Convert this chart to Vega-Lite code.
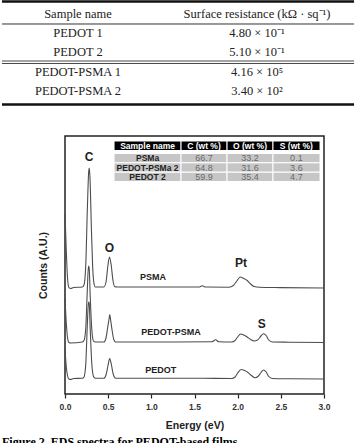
{
  "$schema": "https://vega.github.io/schema/vega-lite/v6.json",
  "padding": 0,
  "spacing": 0,
  "config": {
    "view": {"stroke": "#222", "strokeWidth": 1.5},
    "font": "Liberation Sans"
  },
  "datasets": {
    "resistance": [
      {"row": 0, "col": 0, "text": "Sample name"},
      {"row": 0, "col": 1, "text": "Surface resistance (kΩ · sq⁻¹)"},
      {"row": 1, "col": 0, "text": "PEDOT 1"},
      {"row": 1, "col": 1, "text": "4.80 × 10⁻¹"},
      {"row": 2, "col": 0, "text": "PEDOT 2"},
      {"row": 2, "col": 1, "text": "5.10 × 10⁻¹"},
      {"row": 3, "col": 0, "text": "PEDOT-PSMA 1"},
      {"row": 3, "col": 1, "text": "4.16 × 10⁵"},
      {"row": 4, "col": 0, "text": "PEDOT-PSMA 2"},
      {"row": 4, "col": 1, "text": "3.40 × 10²"}
    ],
    "spectra": [
      {"sample": "PSMA", "energy": 0, "counts": 180},
      {"sample": "PSMA", "energy": 0.015, "counts": 143},
      {"sample": "PSMA", "energy": 0.03, "counts": 115},
      {"sample": "PSMA", "energy": 0.045, "counts": 106.5},
      {"sample": "PSMA", "energy": 0.065, "counts": 105.5},
      {"sample": "PSMA", "energy": 0.1, "counts": 106.5},
      {"sample": "PSMA", "energy": 0.2, "counts": 107},
      {"sample": "PSMA", "energy": 0.22, "counts": 109},
      {"sample": "PSMA", "energy": 0.24, "counts": 128},
      {"sample": "PSMA", "energy": 0.26, "counts": 188},
      {"sample": "PSMA", "energy": 0.275, "counts": 223},
      {"sample": "PSMA", "energy": 0.282, "counts": 226},
      {"sample": "PSMA", "energy": 0.29, "counts": 215},
      {"sample": "PSMA", "energy": 0.305, "counts": 168},
      {"sample": "PSMA", "energy": 0.32, "counts": 128},
      {"sample": "PSMA", "energy": 0.335, "counts": 111},
      {"sample": "PSMA", "energy": 0.35, "counts": 107},
      {"sample": "PSMA", "energy": 0.45, "counts": 107},
      {"sample": "PSMA", "energy": 0.475, "counts": 112},
      {"sample": "PSMA", "energy": 0.495, "counts": 127},
      {"sample": "PSMA", "energy": 0.515, "counts": 137},
      {"sample": "PSMA", "energy": 0.535, "counts": 129},
      {"sample": "PSMA", "energy": 0.555, "counts": 114},
      {"sample": "PSMA", "energy": 0.575, "counts": 107.5},
      {"sample": "PSMA", "energy": 0.6, "counts": 107},
      {"sample": "PSMA", "energy": 1.0, "counts": 107},
      {"sample": "PSMA", "energy": 1.55, "counts": 107},
      {"sample": "PSMA", "energy": 1.59, "counts": 108.2},
      {"sample": "PSMA", "energy": 1.63, "counts": 107},
      {"sample": "PSMA", "energy": 1.9, "counts": 106.8},
      {"sample": "PSMA", "energy": 1.95, "counts": 108.5},
      {"sample": "PSMA", "energy": 1.99, "counts": 113},
      {"sample": "PSMA", "energy": 2.03, "counts": 117},
      {"sample": "PSMA", "energy": 2.07, "counts": 115.5},
      {"sample": "PSMA", "energy": 2.11, "counts": 113.5},
      {"sample": "PSMA", "energy": 2.15, "counts": 110},
      {"sample": "PSMA", "energy": 2.19, "counts": 107.5},
      {"sample": "PSMA", "energy": 2.25, "counts": 106.7},
      {"sample": "PSMA", "energy": 2.5, "counts": 106.4},
      {"sample": "PSMA", "energy": 3.0, "counts": 106},
      {"sample": "PEDOT-PSMA", "energy": 0, "counts": 96},
      {"sample": "PEDOT-PSMA", "energy": 0.015, "counts": 71},
      {"sample": "PEDOT-PSMA", "energy": 0.03, "counts": 56},
      {"sample": "PEDOT-PSMA", "energy": 0.045, "counts": 51.5},
      {"sample": "PEDOT-PSMA", "energy": 0.065, "counts": 51},
      {"sample": "PEDOT-PSMA", "energy": 0.2, "counts": 52},
      {"sample": "PEDOT-PSMA", "energy": 0.22, "counts": 53.5},
      {"sample": "PEDOT-PSMA", "energy": 0.24, "counts": 65},
      {"sample": "PEDOT-PSMA", "energy": 0.258, "counts": 103},
      {"sample": "PEDOT-PSMA", "energy": 0.272, "counts": 128},
      {"sample": "PEDOT-PSMA", "energy": 0.28, "counts": 126},
      {"sample": "PEDOT-PSMA", "energy": 0.292, "counts": 98},
      {"sample": "PEDOT-PSMA", "energy": 0.31, "counts": 65},
      {"sample": "PEDOT-PSMA", "energy": 0.33, "counts": 53},
      {"sample": "PEDOT-PSMA", "energy": 0.35, "counts": 52},
      {"sample": "PEDOT-PSMA", "energy": 0.45, "counts": 52},
      {"sample": "PEDOT-PSMA", "energy": 0.475, "counts": 56},
      {"sample": "PEDOT-PSMA", "energy": 0.495, "counts": 67},
      {"sample": "PEDOT-PSMA", "energy": 0.512, "counts": 76},
      {"sample": "PEDOT-PSMA", "energy": 0.518, "counts": 79.5},
      {"sample": "PEDOT-PSMA", "energy": 0.525, "counts": 76},
      {"sample": "PEDOT-PSMA", "energy": 0.545, "counts": 64},
      {"sample": "PEDOT-PSMA", "energy": 0.565, "counts": 54.5},
      {"sample": "PEDOT-PSMA", "energy": 0.585, "counts": 52},
      {"sample": "PEDOT-PSMA", "energy": 1.0, "counts": 52},
      {"sample": "PEDOT-PSMA", "energy": 1.7, "counts": 52.2},
      {"sample": "PEDOT-PSMA", "energy": 1.745, "counts": 54.3},
      {"sample": "PEDOT-PSMA", "energy": 1.78, "counts": 52.2},
      {"sample": "PEDOT-PSMA", "energy": 1.93, "counts": 52},
      {"sample": "PEDOT-PSMA", "energy": 1.97, "counts": 53.5},
      {"sample": "PEDOT-PSMA", "energy": 2.0, "counts": 57},
      {"sample": "PEDOT-PSMA", "energy": 2.035, "counts": 60},
      {"sample": "PEDOT-PSMA", "energy": 2.07, "counts": 59},
      {"sample": "PEDOT-PSMA", "energy": 2.11, "counts": 57},
      {"sample": "PEDOT-PSMA", "energy": 2.15, "counts": 54.5},
      {"sample": "PEDOT-PSMA", "energy": 2.19, "counts": 53},
      {"sample": "PEDOT-PSMA", "energy": 2.23, "counts": 54},
      {"sample": "PEDOT-PSMA", "energy": 2.27, "counts": 58},
      {"sample": "PEDOT-PSMA", "energy": 2.3, "counts": 60.2},
      {"sample": "PEDOT-PSMA", "energy": 2.33, "counts": 58.5},
      {"sample": "PEDOT-PSMA", "energy": 2.36, "counts": 54},
      {"sample": "PEDOT-PSMA", "energy": 2.4, "counts": 52},
      {"sample": "PEDOT-PSMA", "energy": 2.6, "counts": 51.8},
      {"sample": "PEDOT-PSMA", "energy": 3.0, "counts": 51.5},
      {"sample": "PEDOT", "energy": 0, "counts": 45},
      {"sample": "PEDOT", "energy": 0.015, "counts": 27},
      {"sample": "PEDOT", "energy": 0.03, "counts": 18},
      {"sample": "PEDOT", "energy": 0.045, "counts": 15},
      {"sample": "PEDOT", "energy": 0.065, "counts": 14.5},
      {"sample": "PEDOT", "energy": 0.1, "counts": 15.5},
      {"sample": "PEDOT", "energy": 0.2, "counts": 15.7},
      {"sample": "PEDOT", "energy": 0.22, "counts": 17},
      {"sample": "PEDOT", "energy": 0.24, "counts": 29},
      {"sample": "PEDOT", "energy": 0.258, "counts": 68},
      {"sample": "PEDOT", "energy": 0.272, "counts": 92},
      {"sample": "PEDOT", "energy": 0.28, "counts": 91},
      {"sample": "PEDOT", "energy": 0.292, "counts": 65},
      {"sample": "PEDOT", "energy": 0.31, "counts": 31},
      {"sample": "PEDOT", "energy": 0.33, "counts": 17.5},
      {"sample": "PEDOT", "energy": 0.35, "counts": 15.7},
      {"sample": "PEDOT", "energy": 0.45, "counts": 15.7},
      {"sample": "PEDOT", "energy": 0.475, "counts": 19},
      {"sample": "PEDOT", "energy": 0.497, "counts": 28},
      {"sample": "PEDOT", "energy": 0.518, "counts": 35.5},
      {"sample": "PEDOT", "energy": 0.538, "counts": 29},
      {"sample": "PEDOT", "energy": 0.558, "counts": 20},
      {"sample": "PEDOT", "energy": 0.58, "counts": 16},
      {"sample": "PEDOT", "energy": 0.6, "counts": 15.7},
      {"sample": "PEDOT", "energy": 1.6, "counts": 15.7},
      {"sample": "PEDOT", "energy": 1.93, "counts": 15.5},
      {"sample": "PEDOT", "energy": 1.97, "counts": 17},
      {"sample": "PEDOT", "energy": 2.0, "counts": 21},
      {"sample": "PEDOT", "energy": 2.04, "counts": 24.5},
      {"sample": "PEDOT", "energy": 2.08, "counts": 23.5},
      {"sample": "PEDOT", "energy": 2.12, "counts": 21.5},
      {"sample": "PEDOT", "energy": 2.16, "counts": 18.5},
      {"sample": "PEDOT", "energy": 2.2, "counts": 16.3},
      {"sample": "PEDOT", "energy": 2.24, "counts": 18},
      {"sample": "PEDOT", "energy": 2.27, "counts": 21.5},
      {"sample": "PEDOT", "energy": 2.3, "counts": 24},
      {"sample": "PEDOT", "energy": 2.33, "counts": 22},
      {"sample": "PEDOT", "energy": 2.36, "counts": 17.5},
      {"sample": "PEDOT", "energy": 2.4, "counts": 15.5},
      {"sample": "PEDOT", "energy": 2.6, "counts": 15.2},
      {"sample": "PEDOT", "energy": 3.0, "counts": 15}
    ],
    "peaks": [
      {"label": "C", "energy": 0.28, "counts": 237},
      {"label": "O", "energy": 0.515, "counts": 146},
      {"label": "Pt", "energy": 2.04, "counts": 131},
      {"label": "S", "energy": 2.28, "counts": 70}
    ],
    "samples": [
      {"label": "PSMA", "energy": 1.02, "counts": 117},
      {"label": "PEDOT-PSMA", "energy": 1.228, "counts": 62},
      {"label": "PEDOT", "energy": 1.109, "counts": 24.3}
    ],
    "composition": [
      {"kind": "header", "label": "Sample name", "e0": 0.568, "e1": 1.344, "em": 0.956, "c0": 243.5, "c1": 253, "cm": 248.25},
      {"kind": "header", "label": "C (wt %)", "e0": 1.344, "e1": 1.877, "em": 1.61, "c0": 243.5, "c1": 253, "cm": 248.25},
      {"kind": "header", "label": "O (wt %)", "e0": 1.877, "e1": 2.409, "em": 2.143, "c0": 243.5, "c1": 253, "cm": 248.25},
      {"kind": "header", "label": "S (wt %)", "e0": 2.409, "e1": 2.954, "em": 2.68, "c0": 243.5, "c1": 253, "cm": 248.25},
      {"kind": "name", "label": "PSMa", "e0": 0.568, "e1": 1.344, "em": 0.956, "c0": 231.2, "c1": 240.5, "cm": 235.85},
      {"kind": "value", "label": "66.7", "e0": 1.344, "e1": 1.877, "em": 1.61, "c0": 231.2, "c1": 240.5, "cm": 235.85},
      {"kind": "value", "label": "33.2", "e0": 1.877, "e1": 2.409, "em": 2.143, "c0": 231.2, "c1": 240.5, "cm": 235.85},
      {"kind": "value", "label": "0.1", "e0": 2.409, "e1": 2.954, "em": 2.68, "c0": 231.2, "c1": 240.5, "cm": 235.85},
      {"kind": "name", "label": "PEDOT-PSMa 2", "e0": 0.568, "e1": 1.344, "em": 0.956, "c0": 221.8, "c1": 231.2, "cm": 226.5},
      {"kind": "value", "label": "64.8", "e0": 1.344, "e1": 1.877, "em": 1.61, "c0": 221.8, "c1": 231.2, "cm": 226.5},
      {"kind": "value", "label": "31.6", "e0": 1.877, "e1": 2.409, "em": 2.143, "c0": 221.8, "c1": 231.2, "cm": 226.5},
      {"kind": "value", "label": "3.6", "e0": 2.409, "e1": 2.954, "em": 2.68, "c0": 221.8, "c1": 231.2, "cm": 226.5},
      {"kind": "name", "label": "PEDOT 2", "e0": 0.568, "e1": 1.344, "em": 0.956, "c0": 212.5, "c1": 221.8, "cm": 217.15},
      {"kind": "value", "label": "59.9", "e0": 1.344, "e1": 1.877, "em": 1.61, "c0": 212.5, "c1": 221.8, "cm": 217.15},
      {"kind": "value", "label": "35.4", "e0": 1.877, "e1": 2.409, "em": 2.143, "c0": 212.5, "c1": 221.8, "cm": 217.15},
      {"kind": "value", "label": "4.7", "e0": 2.409, "e1": 2.954, "em": 2.68, "c0": 212.5, "c1": 221.8, "cm": 217.15}
    ]
  },
  "vconcat": [
    {
      "width": 293,
      "height": 135,
      "view": {"stroke": null},
      "layer": [
        {
          "data": {"name": "resistance"},
          "mark": {"type": "text", "font": "Liberation Serif", "fontSize": 12.5, "color": "#222", "align": "center", "baseline": "middle"},
          "encoding": {
            "x": {"field": "col", "type": "quantitative", "scale": {"domain": [-0.0726, 1.564], "nice": false, "zero": false}, "axis": null},
            "y": {"field": "row", "type": "quantitative", "scale": {"domain": [-0.727, 6.286], "reverse": true, "nice": false, "zero": false}, "axis": null},
            "text": {"field": "text"}
          }
        },
        {
          "data": {"values": [{}]},
          "mark": {"type": "rule", "color": "#111", "strokeWidth": 2.5},
          "encoding": {"y": {"datum": -0.649, "type": "quantitative"}, "x": {"datum": -0.4246, "type": "quantitative"}, "x2": {"datum": 1.542}}
        },
        {
          "data": {"values": [{}]},
          "mark": {"type": "rule", "color": "#333", "strokeWidth": 1},
          "encoding": {"y": {"datum": 0.519, "type": "quantitative"}, "x": {"datum": -0.4246, "type": "quantitative"}, "x2": {"datum": 1.542}}
        },
        {
          "data": {"values": [{}]},
          "mark": {"type": "rule", "color": "#333", "strokeWidth": 0.9},
          "encoding": {"y": {"datum": 2.442, "type": "quantitative"}, "x": {"datum": -0.4246, "type": "quantitative"}, "x2": {"datum": 1.542}}
        },
        {
          "data": {"values": [{}]},
          "mark": {"type": "rule", "color": "#333", "strokeWidth": 0.9},
          "encoding": {"y": {"datum": 2.571, "type": "quantitative"}, "x": {"datum": -0.4246, "type": "quantitative"}, "x2": {"datum": 1.542}}
        },
        {
          "data": {"values": [{}]},
          "mark": {"type": "rule", "color": "#111", "strokeWidth": 2.5},
          "encoding": {"y": {"datum": 4.70, "type": "quantitative"}, "x": {"datum": -0.4246, "type": "quantitative"}, "x2": {"datum": 1.542}}
        }
      ]
    },
    {
      "width": 259,
      "height": 258,
      "title": {
        "text": "Figure 2. EDS spectra for PEDOT-based films",
        "orient": "bottom",
        "anchor": "start",
        "frame": "group",
        "dx": -63,
        "offset": 6,
        "font": "Liberation Serif",
        "fontSize": 12,
        "fontWeight": "bold",
        "color": "#000"
      },
      "layer": [
        {
          "data": {"name": "spectra"},
          "mark": {"type": "line", "color": "#4d4d4d", "strokeWidth": 1.1, "interpolate": "monotone"},
          "encoding": {
            "x": {
              "field": "energy", "type": "quantitative",
              "scale": {"domain": [0, 3], "nice": false, "zero": false},
              "axis": {
                "title": "Energy (eV)", "values": [0, 0.5, 1, 1.5, 2, 2.5, 3], "format": ".1f",
                "domain": false, "grid": false, "ticks": true, "tickSize": 4, "tickColor": "#222", "tickWidth": 1.2,
                "labelFont": "Liberation Sans", "labelFontWeight": "bold", "labelFontSize": 8.5, "labelColor": "#333",
                "labelPadding": 4, "labelFlush": false,
                "titleFont": "Liberation Sans", "titleFontSize": 10.5, "titleFontWeight": "bold", "titleColor": "#222", "titlePadding": 10
              }
            },
            "y": {
              "field": "counts", "type": "quantitative",
              "scale": {"domain": [0, 258], "nice": false, "zero": false},
              "axis": {
                "title": "Counts (A.U.)", "domain": false, "grid": false, "ticks": false, "labels": false,
                "minExtent": 0, "maxExtent": 0,
                "titleFont": "Liberation Sans", "titleFontSize": 10.5, "titleFontWeight": "bold", "titleColor": "#222", "titlePadding": 17
              }
            },
            "detail": {"field": "sample"}
          }
        },
        {
          "data": {"name": "peaks"},
          "mark": {"type": "text", "font": "Liberation Sans", "fontSize": 12, "fontWeight": "bold", "color": "#222", "align": "center", "baseline": "middle"},
          "encoding": {
            "x": {"field": "energy", "type": "quantitative"},
            "y": {"field": "counts", "type": "quantitative"},
            "text": {"field": "label"}
          }
        },
        {
          "data": {"name": "samples"},
          "mark": {"type": "text", "font": "Liberation Sans", "fontSize": 9, "fontWeight": "bold", "color": "#222", "align": "center", "baseline": "middle"},
          "encoding": {
            "x": {"field": "energy", "type": "quantitative"},
            "y": {"field": "counts", "type": "quantitative"},
            "text": {"field": "label"}
          }
        },
        {
          "data": {"name": "composition"},
          "mark": {"type": "rect", "stroke": "#ffffff", "strokeWidth": 1},
          "encoding": {
            "x": {"field": "e0", "type": "quantitative"},
            "x2": {"field": "e1"},
            "y": {"field": "c0", "type": "quantitative"},
            "y2": {"field": "c1"},
            "color": {"field": "kind", "type": "nominal", "scale": {"domain": ["header", "name", "value"], "range": ["#000000", "#c6c6c6", "#c6c6c6"]}, "legend": null}
          }
        },
        {
          "data": {"name": "composition"},
          "transform": [{"filter": "datum.kind == 'header'"}],
          "mark": {"type": "text", "font": "Liberation Sans", "fontSize": 8.5, "fontWeight": "bold", "color": "#ffffff", "align": "center", "baseline": "middle"},
          "encoding": {
            "x": {"field": "em", "type": "quantitative"},
            "y": {"field": "cm", "type": "quantitative"},
            "text": {"field": "label"}
          }
        },
        {
          "data": {"name": "composition"},
          "transform": [{"filter": "datum.kind == 'name'"}],
          "mark": {"type": "text", "font": "Liberation Sans", "fontSize": 8.5, "fontWeight": "bold", "color": "#222", "align": "center", "baseline": "middle"},
          "encoding": {
            "x": {"field": "em", "type": "quantitative"},
            "y": {"field": "cm", "type": "quantitative"},
            "text": {"field": "label"}
          }
        },
        {
          "data": {"name": "composition"},
          "transform": [{"filter": "datum.kind == 'value'"}],
          "mark": {"type": "text", "font": "Liberation Sans", "fontSize": 9, "color": "#6a6a6a", "align": "center", "baseline": "middle"},
          "encoding": {
            "x": {"field": "em", "type": "quantitative"},
            "y": {"field": "cm", "type": "quantitative"},
            "text": {"field": "label"}
          }
        }
      ]
    }
  ]
}
